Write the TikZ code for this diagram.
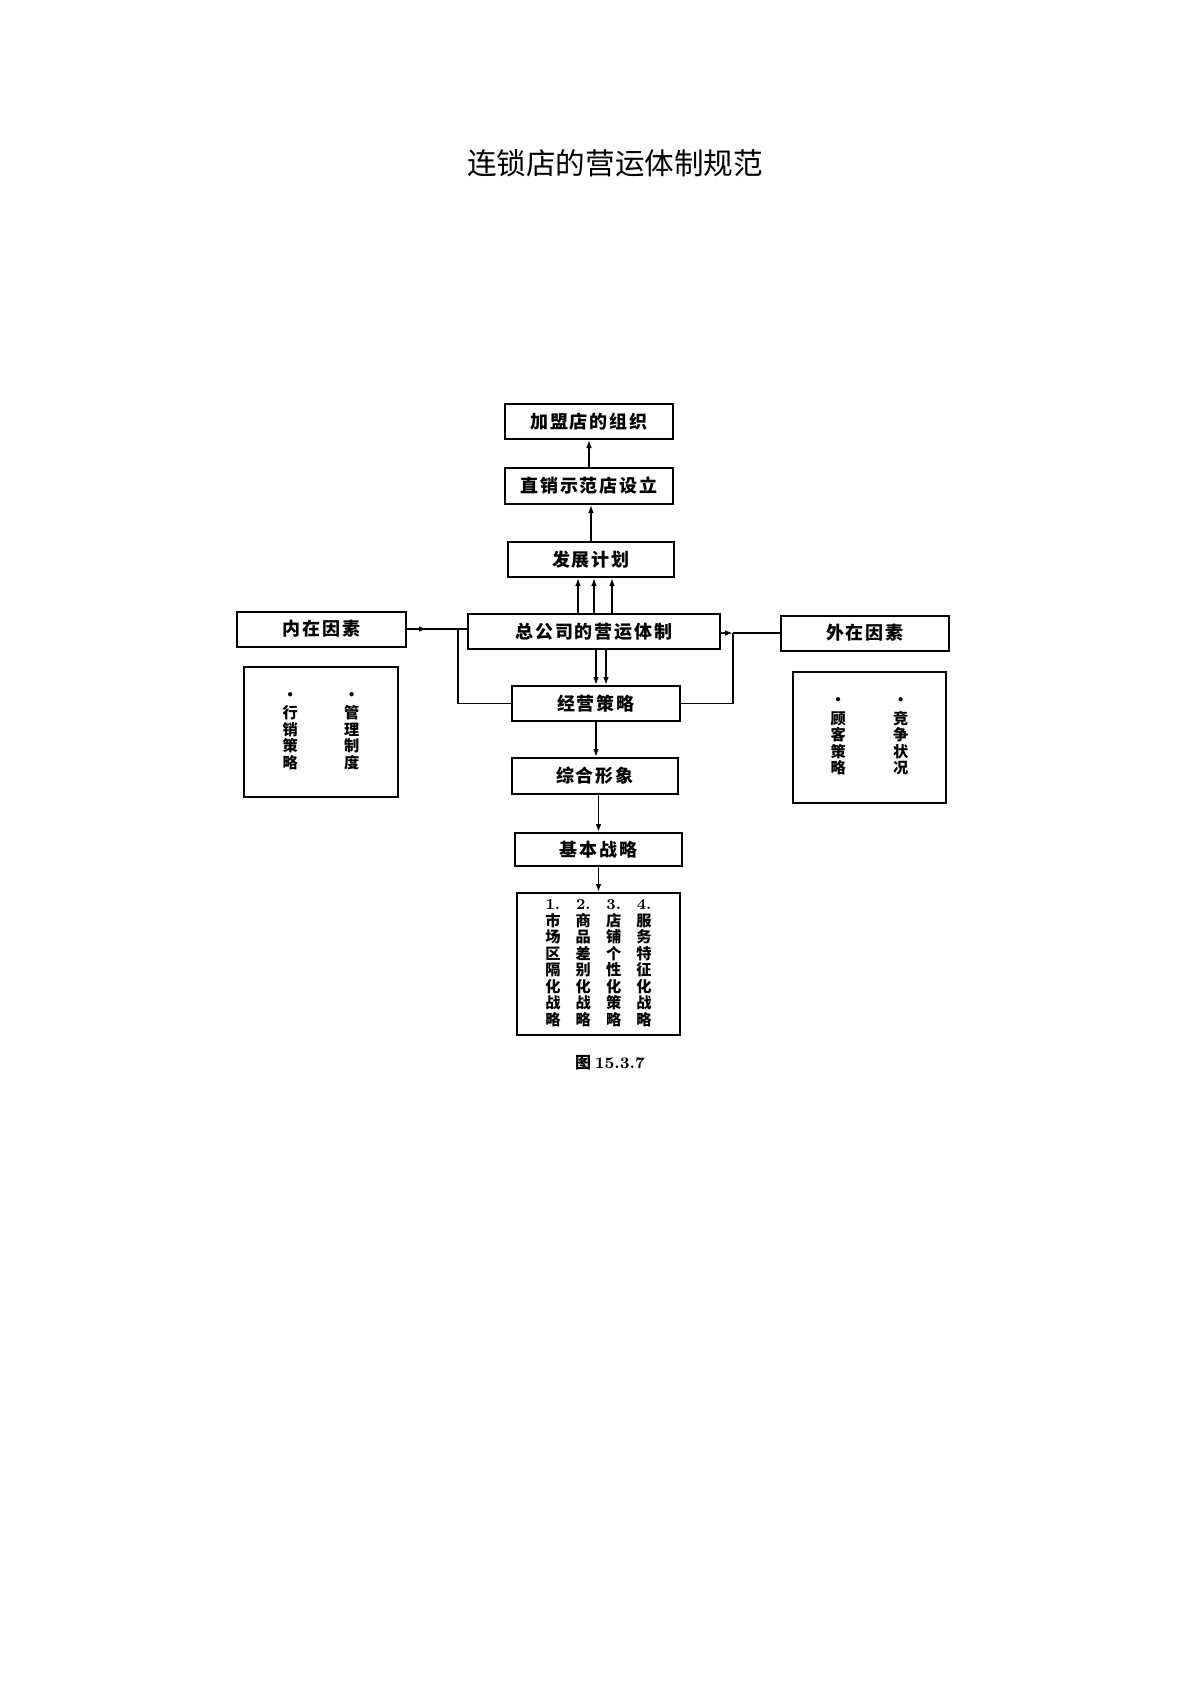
\documentclass[tikz,border=0pt]{standalone}
\usepackage{fontspec}
\newfontfamily\cjk{Noto Sans CJK SC}
\newfontfamily\cjkwide[LetterSpace=11]{Noto Sans CJK SC}
\usetikzlibrary{arrows.meta}
\newcommand\itemno[1]{{\rmfamily\bfseries #1}}

\tikzset{
  box/.style={draw, line width=1pt, minimum width=84pt, minimum height=17.5pt,
    inner sep=0pt, font=\cjkwide\bfseries\fontsize{9}{10}\selectfont},
  listbox/.style={draw, line width=1pt, inner sep=0pt,
    font=\cjk\bfseries\fontsize{7.6}{8.3}\selectfont},
  wire/.style={line width=0.7pt},
}

\begin{document}
\begin{tikzpicture}[x=0.5pt, y=-0.5pt, >={Latex[length=4pt,width=2.8pt]}]
  \useasboundingbox (0,0) rectangle (1190,1683);
  % Title
  \node[font=\cjk\fontsize{14.8}{17}\selectfont] (title) at (615,163) {连锁店的营运体制规范};
  % Central column
  \node[box] (org) at (589,421.5) {加盟店的组织};
  \node[box, minimum height=18pt] (direct) at (589,486) {直销示范店设立};
  \node[box, minimum width=83pt] (plan) at (591,559.5) {发展计划};
  \node[box, minimum width=126pt] (hq) at (594,631.5) {总公司的营运体制};
  \node[box] (strat) at (596,703.5) {经营策略};
  \node[box, minimum width=83pt, minimum height=18pt] (image) at (595,776) {综合形象};
  \node[box, minimum width=83.5pt, minimum height=16.5pt] (basic) at (598.5,849.5) {基本战略};
  % Four strategies
  \node[listbox, minimum width=81.5pt, minimum height=71pt] (four) at (598.5,964) {%
    \setlength\tabcolsep{3.8pt}\renewcommand\arraystretch{0.69}%
    \begin{tabular}{cccc}
      \itemno{1.} & \itemno{2.} & \itemno{3.} & \itemno{4.}\\
      市 & 商 & 店 & 服\\
      场 & 品 & 铺 & 务\\
      区 & 差 & 个 & 特\\
      隔 & 别 & 性 & 征\\
      化 & 化 & 化 & 化\\
      战 & 战 & 策 & 战\\
      略 & 略 & 略 & 略
    \end{tabular}};
  \node[font=\cjk\bfseries\fontsize{8}{9.6}\selectfont] (caption) at (610,1063)
    {图\ {\rmfamily\addfontfeature{LetterSpace=25}15.3.7}};
  % Left side: inner factors
  \node[box, minimum width=84.5pt] (inner) at (321.5,629) {内在因素};
  \node[listbox, minimum width=77pt, minimum height=65pt] (innerlist) at (321,732) {%
    \setlength\tabcolsep{11.6pt}\renewcommand\arraystretch{0.69}%
    \begin{tabular}{cc}
      · & ·\\[1pt]
      行 & 管\\
      销 & 理\\
      策 & 制\\
      略 & 度
    \end{tabular}};
  % Right side: outer factors
  \node[box] (outer) at (865,633) {外在因素};
  \node[listbox, minimum width=76.5pt, minimum height=65.5pt] (outerlist) at (869.5,737.5) {%
    \setlength\tabcolsep{11.8pt}\renewcommand\arraystretch{0.69}%
    \begin{tabular}{cc}
      · & ·\\[1pt]
      顾 & 竞\\
      客 & 争\\
      策 & 状\\
      略 & 况
    \end{tabular}};
  % Junctions of the feedback loops
  \coordinate (jl) at (458,629);
  \coordinate (jr) at (733,633);
  % Upward arrows
  \draw[wire, ->] (direct.north) -- (org.south);
  \draw[wire, ->] (plan.north) -- (plan.north |- direct.south);
  \foreach \dx in {-16,0,18}
    \draw[wire, ->] ([xshift=\dx*0.5pt]hq.north) -- ([xshift=\dx*0.5pt]hq.north |- plan.south);
  % Downward arrows
  \foreach \dx in {2,12}
    \draw[wire, ->] ([xshift=\dx*0.5pt]hq.south) -- ([xshift=\dx*0.5pt]hq.south |- strat.north);
  \draw[wire, ->] (strat.south) -- (strat.south |- image.north);
  \draw[wire, ->] (basic.north |- image.south) -- (basic.north);
  \draw[wire, ->] (basic.south) -- (four.north);
  % Inner factors into head office, loop from strategy
  \draw[wire] (inner.east) -- (inner.east -| hq.west);
  \draw[wire, ->] (inner.east) -- ++(20,0);
  \draw[wire] (strat.west) -| (jl);
  % Outer factors, loop from strategy
  \draw[wire] (outer.west) -- (jr);
  \draw[wire, ->] (hq.east |- jr) -- (jr);
  \draw[wire] (strat.east) -| (jr);
\end{tikzpicture}
\end{document}
